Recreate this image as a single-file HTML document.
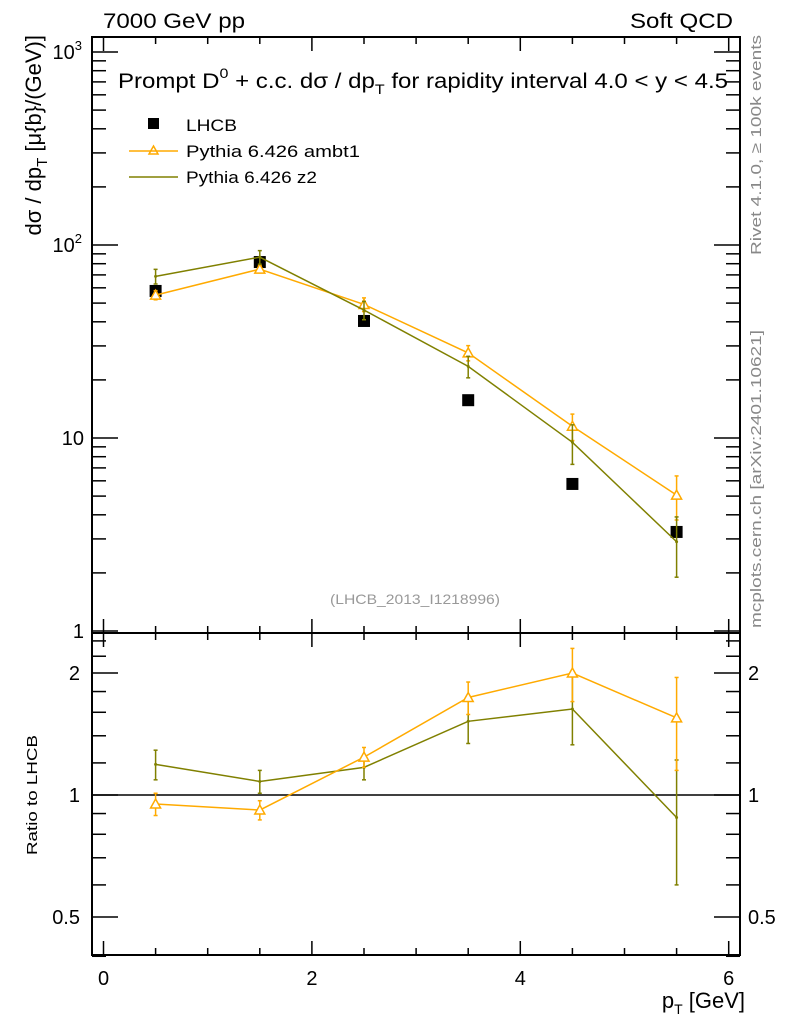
<!DOCTYPE html>
<html><head><meta charset="utf-8"><style>
body{margin:0;background:#fff;}
svg{display:block;font-family:"Liberation Sans",sans-serif;}
</style></head><body>
<svg id="c" width="786" height="1024" viewBox="0 0 786 1024"></svg>
<script>
const xCenters=[0.5,1.5,2.5,3.5,4.5,5.5];
const lhcb=[57.8,81.6,40.4,15.7,5.78,3.26];
const ambt1=[55,75,49.2,27.6,11.5,5.06];
const ambt1Err=[3,3,4,2.5,1.8,1.3];
const z2=[68.8,86.5,46,23.5,9.5,2.9];
const z2Err=[6,7,5,3,2.2,1.0];
const ratioAmbt1=[0.95,0.918,1.24,1.74,2.0,1.55];
const ratioAmbt1Err=[0.06,0.05,0.07,0.16,0.3,0.4];
const ratioZ2=[1.19,1.08,1.17,1.52,1.63,0.88];
const ratioZ2Lo=[0.1,0.07,0.08,0.18,0.3,0.28];
const ratioZ2Hi=[0.1,0.07,0.08,0.2,0.35,0.34];
const xTicks=[0,2,4,6];

const NS="http://www.w3.org/2000/svg";
const svg=document.getElementById('c');
const L=92,R=740,T=37,MB=633,RB=955;
const X=v=>103.5+v*104.2;
const Y=v=>631-Math.log10(v)*193;
const YR=v=>795-Math.log2(v)*122;
const OR='#ffaa00', OL='#808000';
function el(t,a,p){const e=document.createElementNS(NS,t);for(const k in a)e.setAttribute(k,a[k]);(p||svg).appendChild(e);return e;}
function txt(x,y,s,size,anchor,fill,extra,p){const e=el('text',Object.assign({x:x,y:y,'font-size':size,'text-anchor':anchor||'start',fill:fill||'#000'},extra||{}),p);e.innerHTML=s;return e;}

const f1=el('rect',{x:L,y:T,width:R-L,height:MB-T,fill:'none',stroke:'#000','stroke-width':2});


const f2=el('rect',{x:L,y:MB,width:R-L,height:RB-MB,fill:'none',stroke:'#000','stroke-width':2});



for(let v=0;v<=6.01;v+=0.5){
  const major=Math.abs(v-Math.round(v/2)*2)<1e-6;
  const len=major?14:7;
  const x=X(v);
  [[T,1],[MB,-1],[MB,1],[RB,-1]].forEach(([y,d])=>{el('line',{x1:x,x2:x,y1:y,y2:y+d*len,stroke:'#000','stroke-width':1.5});});
}
xTicks.forEach(v=>{const t=txt(X(v),985,v,20,'middle');

});
const xt=txt(745,1008,'p<tspan font-size="14" dy="6">T</tspan><tspan dy="-6"> [GeV]</tspan>',22,'end');



for(let d=0;d<3;d++){for(let m=1;m<=9;m++){const v=m*Math.pow(10,d);const y=Y(v);const len=m===1?26:14;
 el('line',{x1:L,x2:L+len,y1:y,y2:y,stroke:'#000','stroke-width':1.5});
 el('line',{x1:R,x2:R-len,y1:y,y2:y,stroke:'#000','stroke-width':1.5});}}
el('line',{x1:L,x2:L+26,y1:Y(1000),y2:Y(1000),stroke:'#000','stroke-width':1.5});
el('line',{x1:R,x2:R-26,y1:Y(1000),y2:Y(1000),stroke:'#000','stroke-width':1.5});
[[1,'1'],[10,'10'],[100,'10<tspan font-size="13" dy="-9">2</tspan>'],[1000,'10<tspan font-size="13" dy="-9">3</tspan>']].forEach(([v,s])=>{
 const t=txt(84,Y(v)+7,s,20,'end');
 if(v>=100)t.setAttribute('x',82);
 
 });
const yt=txt(0,0,'dσ / dp<tspan font-size="15" dy="6">T</tspan><tspan dy="-6"> [μ{b}/(GeV)]</tspan>',22,'end',null,{transform:'translate(41,35) rotate(-90)'});



[0.4,0.5,0.6,0.7,0.8,0.9,1,1.2,1.4,1.6,1.8,2,2.2,2.4].forEach(v=>{const y=YR(v);const len=(v===0.5||v===1||v===2)?26:14;
 el('line',{x1:L,x2:L+len,y1:y,y2:y,stroke:'#000','stroke-width':1.5});
 el('line',{x1:R,x2:R-len,y1:y,y2:y,stroke:'#000','stroke-width':1.5});});
[[0.5,'0.5'],[1,'1'],[2,'2']].forEach(([v,s])=>{
 const a=txt(80,YR(v)+7,s,20,'end');
 const b=txt(748,YR(v)+7,s,20,'start');});
const rt=txt(0,0,'Ratio to LHCB',15,'middle',null,{transform:'translate(37,795) rotate(-90)',textLength:120,lengthAdjust:'spacingAndGlyphs'});


el('line',{x1:L,x2:R,y1:YR(1),y2:YR(1),stroke:'#000','stroke-width':1.5});

let t=txt(103,28,'7000 GeV pp',21,'start',null,{textLength:142,lengthAdjust:'spacingAndGlyphs'});
t=txt(733,28,'Soft QCD',21,'end',null,{textLength:103,lengthAdjust:'spacingAndGlyphs'});
t=txt(118,88,'Prompt D<tspan font-size="14" dy="-10">0</tspan><tspan dy="10"> + c.c.  dσ / dp</tspan><tspan font-size="14" dy="6">T</tspan><tspan dy="-6"> for rapidity interval 4.0 &lt; y &lt; 4.5</tspan>',21,'start',null,{textLength:610,lengthAdjust:'spacingAndGlyphs'});

t=txt(415,604,'(LHCB_2013_I1218996)',14,'middle','#999',{textLength:170,lengthAdjust:'spacingAndGlyphs'});
t=txt(0,0,'Rivet 4.1.0, ≥ 100k events',15,'start','#888',{transform:'translate(761,255) rotate(-90)',textLength:220,lengthAdjust:'spacingAndGlyphs'});
t=txt(0,0,'mcplots.cern.ch [arXiv:2401.10621]',15,'start','#888',{transform:'translate(761,628) rotate(-90)',textLength:298,lengthAdjust:'spacingAndGlyphs'});

const lg=el('g',{});
el('rect',{x:148,y:118,width:11,height:11,fill:'#000'},lg);
t=txt(186,131,'LHCB',17,'start','#000',{textLength:51,lengthAdjust:'spacingAndGlyphs'},lg);
el('line',{x1:129,x2:178,y1:151,y2:151,stroke:OR,'stroke-width':1.5},lg);
el('path',{d:'M153.5,146 L158,154 L149,154 Z',fill:'none',stroke:OR,'stroke-width':1.5},lg);
t=txt(186,157,'Pythia 6.426 ambt1',17,'start','#000',{textLength:174,lengthAdjust:'spacingAndGlyphs'},lg);
el('line',{x1:129,x2:178,y1:177,y2:177,stroke:OL,'stroke-width':1.5},lg);
t=txt(186,183,'Pythia 6.426 z2',17,'start','#000',{textLength:131,lengthAdjust:'spacingAndGlyphs'},lg);

function series(vals,lo,hi,fy,col,tri,name){
 const g=el('g',{});
 el('polyline',{points:xCenters.map((x,i)=>X(x)+','+fy(vals[i])).join(' '),fill:'none',stroke:col,'stroke-width':1.5},g);
 xCenters.forEach((x,i)=>{const px=X(x),y1=fy(vals[i]-lo[i]),y2=fy(vals[i]+hi[i]);
  el('line',{x1:px,x2:px,y1:y1,y2:y2,stroke:col,'stroke-width':1.5},g);
  el('line',{x1:px-2,x2:px+2,y1:y1,y2:y1,stroke:col,'stroke-width':1.5},g);
  el('line',{x1:px-2,x2:px+2,y1:y2,y2:y2,stroke:col,'stroke-width':1.5},g);
  const py=fy(vals[i]);
  if(tri)el('path',{d:`M${px},${py-5} L${px+5},${py+4} L${px-5},${py+4} Z`,fill:'#fff',stroke:col,'stroke-width':1.5},g);
  else el('circle',{cx:px,cy:py,r:1.5,fill:col},g);});
}
const dg=el('g',{});
xCenters.forEach((x,i)=>el('rect',{x:X(x)-6,y:Y(lhcb[i])-6,width:12,height:12,fill:'#000'},dg));
series(ambt1,ambt1Err,ambt1Err,Y,OR,true,'ambt1-series');
series(z2,z2Err,z2Err,Y,OL,false,'z2-series');
series(ratioZ2,ratioZ2Lo,ratioZ2Hi,YR,OL,false,'z2-ratio-series');
series(ratioAmbt1,ratioAmbt1Err,ratioAmbt1Err,YR,OR,true,'ambt1-ratio-series');
</script>
</body></html>
